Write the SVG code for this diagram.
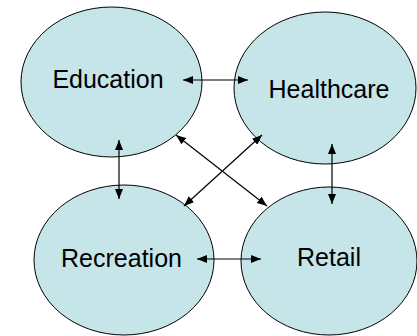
<svg xmlns="http://www.w3.org/2000/svg" width="417" height="336" viewBox="0 0 417 336">
<defs>
<style>
.node ellipse{fill:#c6e5e9;stroke:#000;stroke-width:1}
.node text{font-family:"Liberation Sans",Arial,sans-serif;font-size:25px;fill:#000;text-anchor:middle}
.edge{stroke:#000;stroke-width:1.2;fill:none;marker-start:url(#ah);marker-end:url(#ah)}
</style>
<marker id="ah" markerUnits="userSpaceOnUse" markerWidth="10" markerHeight="8" refX="10" refY="4" orient="auto-start-reverse" viewBox="0 0 10 8">
<path d="M0,0 L10,4 L0,8 z" fill="#000"/>
</marker>
</defs>
<rect width="417" height="336" fill="#fff"/>
<g id="education" class="node"><ellipse cx="111.5" cy="82" rx="90.5" ry="75"/><text x="108" y="88">Education</text></g>
<g id="healthcare" class="node"><ellipse cx="325" cy="88" rx="91" ry="76"/><text x="329" y="98">Healthcare</text></g>
<g id="recreation" class="node"><ellipse cx="124" cy="260" rx="90" ry="75"/><text x="121.5" y="267">Recreation</text></g>
<g id="retail" class="node"><ellipse cx="329" cy="261" rx="88" ry="74"/><text x="329" y="266">Retail</text></g>
<g id="connectors">
<line class="edge" x1="183" y1="80" x2="248" y2="80"/>
<line class="edge" x1="197" y1="259" x2="261" y2="259"/>
<line class="edge" x1="119" y1="140" x2="119" y2="199"/>
<line class="edge" x1="332" y1="144" x2="332" y2="204"/>
<line class="edge" x1="176" y1="135" x2="267" y2="206"/>
<line class="edge" x1="262" y1="135" x2="184" y2="206"/>
</g>
</svg>
